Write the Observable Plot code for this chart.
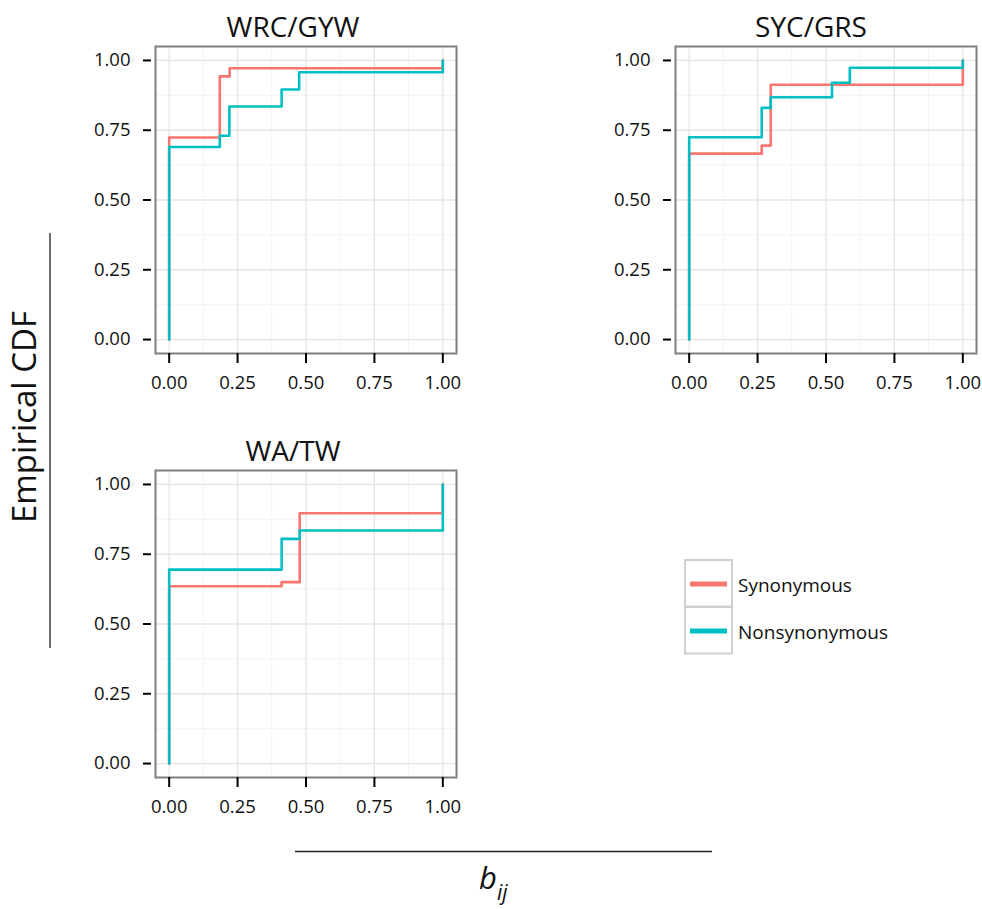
<!DOCTYPE html>
<html>
<head>
<meta charset="utf-8">
<script src="https://cdn.jsdelivr.net/npm/d3@7"></script>
<script src="https://cdn.jsdelivr.net/npm/@observablehq/plot@0.6"></script>
<style>
  html, body { margin: 0; padding: 0; background: #fff; }
  #wrap { position: relative; width: 982px; height: 909px; overflow: hidden; font-family: "Open Sans", sans-serif; }
  #wrap > svg, #wrap > div { position: absolute; }
</style>
</head>
<body>
<div id="wrap"></div>
<script>
// ---- data ----
const panelTitles = ["WRC/GYW", "SYC/GRS", "WA/TW"];
const seriesNames = ["Synonymous", "Nonsynonymous"];
const seriesColors = ["#F8766D", "#00BFC4"];
const majorTicks = [0, 0.25, 0.5, 0.75, 1];
const minorTicks = [0.125, 0.375, 0.625, 0.875];

// WRC/GYW
const wrcSynX = [0, 0, 0.185, 0.221, 1];
const wrcSynY = [0, 0.724, 0.943, 0.972, 1];
const wrcNonX = [0, 0, 0.185, 0.220, 0.411, 0.475, 1];
const wrcNonY = [0, 0.690, 0.730, 0.835, 0.896, 0.958, 1];
// SYC/GRS
const sycSynX = [0, 0, 0.265, 0.298, 1];
const sycSynY = [0, 0.666, 0.695, 0.913, 1];
const sycNonX = [0, 0, 0.265, 0.298, 0.522, 0.587, 1];
const sycNonY = [0, 0.725, 0.830, 0.868, 0.920, 0.974, 1];
// WA/TW
const waSynX = [0, 0, 0.411, 0.477, 1];
const waSynY = [0, 0.635, 0.650, 0.897, 1];
const waNonX = [0, 0, 0.411, 0.477, 1];
const waNonY = [0, 0.695, 0.805, 0.835, 1];

const wrap = document.getElementById("wrap");
const fmt = d3.format(".2f");

function toRows(xs, ys, s) { return xs.map((x, i) => ({x, y: ys[i], s})); }

function panel(synX, synY, nonX, nonY, left, top, width) {
  const data = [...toRows(synX, synY, seriesNames[0]), ...toRows(nonX, nonY, seriesNames[1])];
  const chart = Plot.plot({
    width: width, height: 380,
    marginLeft: 75, marginRight: width - 75 - 301, marginTop: 6, marginBottom: 67,
    style: {fontFamily: "Open Sans", fontSize: "18.5px", color: "#111", background: "transparent", overflow: "visible"},
    x: {domain: [-0.05, 1.05]},
    y: {domain: [-0.05, 1.05]},
    color: {domain: seriesNames, range: seriesColors},
    marks: [
      Plot.ruleX(minorTicks, {stroke: "#f3f3f3", strokeWidth: 1}),
      Plot.ruleY(minorTicks, {stroke: "#f3f3f3", strokeWidth: 1}),
      Plot.ruleX(majorTicks, {stroke: "#e4e4e4", strokeWidth: 1.3}),
      Plot.ruleY(majorTicks, {stroke: "#e4e4e4", strokeWidth: 1.3}),
      Plot.line(data, {x: "x", y: "y", z: "s", stroke: "s", curve: "step-after", strokeWidth: 2.6}),
      Plot.frame({stroke: "#7f7f7f", strokeWidth: 2}),
      Plot.axisX(majorTicks, {tickSize: 10, tickPadding: 12, tickFormat: fmt, strokeWidth: 2, stroke: "#000", label: null}),
      Plot.axisY(majorTicks, {tickSize: 8, tickPadding: 13, dx: -4, tickFormat: fmt, strokeWidth: 2, stroke: "#000", label: null})
    ]
  });
  chart.style.left = left + "px";
  chart.style.top = top + "px";
  wrap.appendChild(chart);
}

panel(wrcSynX, wrcSynY, wrcNonX, wrcNonY, 80, 40, 380);
panel(sycSynX, sycSynY, sycNonX, sycNonY, 600, 40, 382);
panel(waSynX, waSynY, waNonX, waNonY, 80, 464, 380);

// ---- overlay: titles, axis titles, legend ----
const svg = d3.select(wrap).append("svg")
  .attr("width", 982).attr("height", 909)
  .style("left", "0px").style("top", "0px")
  .style("pointer-events", "none")
  .style("font-family", "Open Sans");

const titlePos = [[293, 37], [811, 37], [293, 461]];
panelTitles.forEach((t, i) => {
  svg.append("text").attr("x", titlePos[i][0]).attr("y", titlePos[i][1])
    .attr("text-anchor", "middle").attr("font-size", 28).attr("fill", "#111").text(t);
});

svg.append("text").attr("transform", "translate(36,417) rotate(-90)")
  .attr("text-anchor", "middle").attr("font-size", 33).attr("fill", "#111").text("Empirical CDF");
svg.append("line").attr("x1", 50).attr("x2", 50).attr("y1", 233).attr("y2", 648)
  .attr("stroke", "#222").attr("stroke-width", 1.3);

svg.append("line").attr("x1", 295).attr("x2", 712).attr("y1", 851.5).attr("y2", 851.5)
  .attr("stroke", "#222").attr("stroke-width", 1.3);
const bt = svg.append("text").attr("x", 479).attr("y", 889).attr("font-style", "italic").attr("fill", "#111");
bt.append("tspan").attr("font-size", 31).text("b");
bt.append("tspan").attr("font-size", 21).attr("dy", 11).text("ij");

// legend
const legTop = [560, 607];
seriesNames.forEach((name, i) => {
  const y0 = legTop[i];
  svg.append("rect").attr("x", 685).attr("y", y0).attr("width", 47).attr("height", 46.5)
    .attr("fill", "#fff").attr("stroke", "#cfcfcf").attr("stroke-width", 2);
  svg.append("line").attr("x1", 690).attr("x2", 727).attr("y1", y0 + 24).attr("y2", y0 + 24)
    .attr("stroke", seriesColors[i]).attr("stroke-width", 5);
  svg.append("text").attr("x", 738).attr("y", y0 + 25).attr("dominant-baseline", "central")
    .attr("font-size", 19).attr("fill", "#111").text(name);
});
</script>
</body>
</html>
